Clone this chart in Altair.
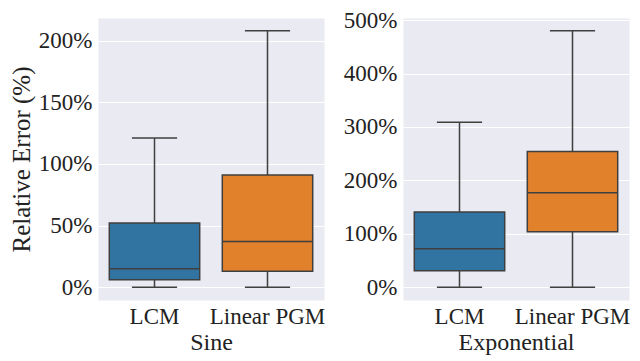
import altair as alt
import pandas as pd

methods = ["LCM", "Linear PGM"]
colors = ["#3274a1", "#e1812c"]

sine_min = [0, 0]
sine_q1 = [6, 13]
sine_med = [15, 37]
sine_q3 = [52, 91]
sine_max = [121, 208]

exp_min = [0, 0]
exp_q1 = [31, 104]
exp_med = [72, 177]
exp_q3 = [141, 254]
exp_max = [309, 480]

sine_ticks = [0, 50, 100, 150, 200]
exp_ticks = [0, 100, 200, 300, 400, 500]

W, H = 226, 282
FONT = "Liberation Serif"
EDGE = "#3f3f3f"
TXT = "#222222"


def panel(name, mins, q1, med, q3, maxs, domain, ticks, ytitle):
    df = pd.DataFrame({"method": methods, "mn": mins, "q1": q1, "med": med,
                       "q3": q3, "mx": maxs})
    x = alt.X("method:N", sort=methods,
              scale=alt.Scale(paddingInner=0, paddingOuter=0),
              axis=alt.Axis(title=name, labelAngle=0, grid=False, domain=False,
                            ticks=False, labelPadding=5, titlePadding=2,
                            titleFontSize=24))

    def y(field):
        return alt.Y(field + ":Q",
                     scale=alt.Scale(domain=domain, nice=False, zero=False),
                     axis=alt.Axis(values=ticks, labelExpr="datum.value + '%'",
                                   grid=True, gridColor="white", gridWidth=1.2,
                                   domain=False, ticks=False, labelPadding=6,
                                   titleFontSize=25, titlePadding=4),
                     title=ytitle)

    band = W / 2.0
    base = alt.Chart(df)
    whisk = base.mark_rule(color=EDGE, strokeWidth=1.5).encode(
        x=x, y=y("mn"), y2="mx:Q")
    box = base.mark_bar(width=alt.RelativeBandSize(0.8), stroke=EDGE,
                        strokeWidth=1.5).encode(
        x=x, y=y("q1"), y2="q3:Q",
        color=alt.Color("method:N", sort=methods,
                        scale=alt.Scale(domain=methods, range=colors),
                        legend=None))
    medt = base.mark_tick(orient="horizontal", size=band * 0.8, thickness=1.5,
                          color=EDGE, opacity=1).encode(x=x, y=y("med"))
    capl = base.mark_tick(orient="horizontal", size=band * 0.4, thickness=1.5,
                          color=EDGE, opacity=1).encode(x=x, y=y("mn"))
    caph = base.mark_tick(orient="horizontal", size=band * 0.4, thickness=1.5,
                          color=EDGE, opacity=1).encode(x=x, y=y("mx"))
    return alt.layer(whisk, box, medt, capl, caph).properties(width=W, height=H)


left = panel("Sine", sine_min, sine_q1, sine_med, sine_q3, sine_max,
             [-10.4, 218.4], sine_ticks, "Relative Error (%)")
right = panel("Exponential", exp_min, exp_q1, exp_med, exp_q3, exp_max,
              [-24, 504], exp_ticks, None)

chart = alt.hconcat(left, right, spacing=16).resolve_scale(
    y="independent", x="independent"
).properties(
    padding={"left": 0, "top": 0, "right": 0, "bottom": 0}
).configure_view(
    fill="#eaeaf2", stroke="transparent"
).configure_axis(
    labelFont=FONT, titleFont=FONT, labelFontSize=23, titleFontSize=24,
    labelColor=TXT, titleColor=TXT, titleFontWeight="normal"
)

chart.save("out.html", embed_options={"renderer": "svg", "actions": False})
